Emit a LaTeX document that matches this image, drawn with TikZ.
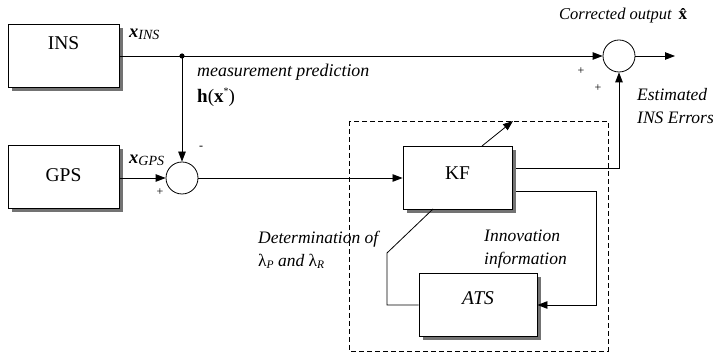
\documentclass[tikz,border=0pt]{standalone}
\usepackage{fontspec}
\setmainfont{Liberation Serif}
\usetikzlibrary{arrows.meta}
\tikzset{
  box/.style={draw, line width=0.9pt, fill=white, minimum width=#1, minimum height=63pt, inner sep=0pt},
  boxshadow/.style={fill=black!55, draw=none, minimum width=#1, minimum height=63pt, inner sep=0pt},
  boxtext/.style={font=\fontsize{19.5}{22}\selectfont, inner sep=0pt},
  lbl/.style={font=\fontsize{17.5}{20}\selectfont\itshape, inner sep=0pt, anchor=west},
  sgn/.style={font=\fontsize{12}{14}\selectfont, inner sep=0pt},
  sum/.style={draw, circle, line width=0.8pt, minimum size=32pt, inner sep=0pt, fill=white},
  conn/.style={line width=0.8pt},
  arr/.style={line width=0.8pt, -{Triangle[length=10pt,width=7.5pt]}},
}
\begin{document}
\begin{tikzpicture}[x=1pt,y=-1pt]
\useasboundingbox (0,0) rectangle (713,355);
% shadows
\node[boxshadow=111pt] (insS) at (67.5,60) {};
\node[boxshadow=111pt] (gpsS) at (67.5,180.5) {};
\node[boxshadow=109pt] (kfS) at (461.5,182) {};
\node[boxshadow=118pt] (atsS) at (482,309) {};
% boxes
\node[box=111pt] (ins) at (63.5,56) {};
\node[boxtext] (inst) at (63.5,43) {INS};
\node[box=111pt] (gps) at (63.5,176.5) {};
\node[boxtext] (gpst) at (63.5,175) {GPS};
\node[box=109pt] (kf) at (457.5,178) {};
\node[boxtext] (kft) at (457.5,173) {KF};
\node[box=118pt] (ats) at (478,305) {};
\node[boxtext, font=\fontsize{19.5}{22}\selectfont\itshape] (atst) at (478,298) {ATS};
% dashed region
\draw[dashed, dash pattern=on 5pt off 3pt, line width=0.8pt] (349,121) coordinate (dtl) rectangle (608,351) coordinate (dbr);
% sums
\node[sum] (s1) at (182,178) {};
\node[sum] (s2) at (619,56) {};
\coordinate (j) at (182,56);
\fill (j) circle (2.6pt);
% connectors
\draw[arr] (ins.east) -- (s2.west);
\draw[arr] (j) -- (s1.north);
\draw[arr] (gps.east |- s1.west) -- (s1.west);
\draw[arr] (s1.east) -- (kf.west |- s1.east);
\coordinate (out) at (675,56);
\draw[arr] (s2.east) -- (out);
\coordinate (k1) at (516,168);
\coordinate (k2) at (516,191);
\draw[arr] (k1) -| (s2.south);
\draw[arr] (k2) -| (596,305) -- (ats.east |- 0,305);
\coordinate (kb) at (433,209);
\draw[conn] (kb) -- (387,253) -- (387,305) -- (ats.west |- 0,305);
\coordinate (kt) at (482,146);
\coordinate (ka) at (513,121);
\draw[arr] (kt) -- (ka);
% labels
\node[lbl, font=\fontsize{18.5}{20}\selectfont] (xins) at (129,34) {\textbf{\textit{x}}\raisebox{-0.25ex}{\fontsize{14}{16}\selectfont\itshape INS}};
\node[lbl, font=\fontsize{18.5}{20}\selectfont] (xgps) at (129,160) {\textbf{\textit{x}}\raisebox{-0.25ex}{\fontsize{14}{16}\selectfont\itshape GPS}};
\node[lbl, font=\fontsize{17.9}{20}\selectfont\itshape] (mp) at (197,72) {measurement prediction};
\node[lbl, font=\fontsize{19}{21}\selectfont] (hx) at (197,97) {\textbf{h}(\textbf{x}\raisebox{0.9ex}{\fontsize{10}{12}\selectfont *})};
\node[sgn] (m1) at (201,148) {-};
\node[sgn] (p1) at (160,192) {+};
\node[lbl, font=\fontsize{16.5}{18}\selectfont\itshape] (co) at (559,16) {Corrected output \,\upshape\fontsize{17}{18}\selectfont\textbf{\^{x}}};
\node[sgn] (p2) at (581,71) {+};
\node[sgn] (p3) at (598,88) {+};
\node[lbl, align=left] (est) at (637,106) {Estimated\\[3pt]INS Errors};
\node[lbl, align=left] (det) at (258,250) {Determination of\\[3pt]{\upshape λ}\raisebox{-0.3ex}{\fontsize{11.5}{13}\selectfont\itshape P} and {\upshape λ}\raisebox{-0.3ex}{\fontsize{11.5}{13}\selectfont\itshape R}};
\node[lbl, align=left] (inn) at (484,249) {Innovation\\[3pt]information};
\end{tikzpicture}
\end{document}
